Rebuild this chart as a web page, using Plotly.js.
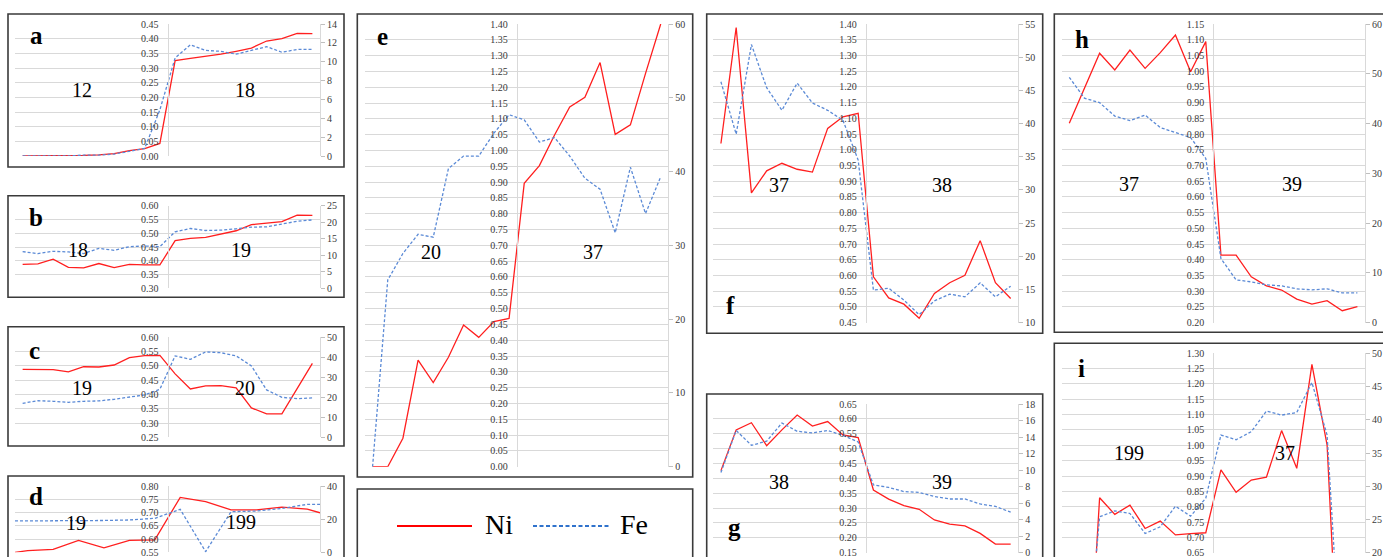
<!DOCTYPE html>
<html>
<head>
<meta charset="utf-8">
<script src="https://cdn.plot.ly/plotly-3.0.1.min.js"></script>
<style>html,body{margin:0;padding:0;background:#fff;overflow:hidden}#chart{width:1383px;height:557px}</style>
</head>
<body>
<div id="chart"></div>
<script>
// ---------------- data ----------------
const cat20 = [1,2,3,4,5,6,7,8,9,10,11,12,13,14,15,16,17,18,19,20];
const catD  = [0.5,1,2,3,4,5,6,7,8,9,10,11,12,12.5];

const aNi = [0.000,0.000,0.000,0.001,0.002,0.004,0.008,0.018,0.025,0.043,0.325,0.333,0.339,0.347,0.357,0.368,0.392,0.400,0.418,0.417];
const aFe = [0.0,0.0,0.0,0.0,0.1,0.1,0.2,0.5,0.8,4.9,10.4,11.8,11.2,11.1,10.8,11.2,11.6,11.0,11.3,11.3];

const bNi = [0.387,0.389,0.406,0.376,0.374,0.390,0.375,0.387,0.385,0.385,0.473,0.481,0.485,0.497,0.509,0.531,0.537,0.542,0.566,0.565];
const bFe = [11.1,10.5,11.2,11.0,10.5,12.1,11.5,12.6,12.8,12.6,17.1,18.1,17.5,17.6,18.0,18.5,18.6,19.5,20.3,20.7];

const cNi = [0.488,0.487,0.487,0.479,0.497,0.496,0.503,0.529,0.536,0.537,0.472,0.419,0.430,0.431,0.423,0.353,0.332,0.332,0.421,0.509];
const cFe = [17.0,18.3,18.0,17.5,18.0,18.2,19.0,20.0,21.2,24.0,40.7,39.0,42.7,42.3,40.7,35.7,23.7,20.0,19.3,19.7];

const dNi = [0.550,0.556,0.561,0.595,0.567,0.595,0.597,0.757,0.741,0.710,0.710,0.720,0.713,0.699];
const dFe = [18.9,18.9,18.9,19.0,19.2,19.5,20.5,25.9,0.4,24.5,24.9,26.5,28.9,28.9];

const eNi = [0.000,0.000,0.090,0.337,0.266,0.346,0.448,0.409,0.459,0.469,0.896,0.952,1.049,1.138,1.168,1.278,1.051,1.081,1.244,1.400];
const eFe = [0.0,25.3,28.9,31.5,31.1,40.4,42.1,42.1,45.2,47.7,47.0,44.0,44.6,42.1,39.1,37.6,31.7,40.6,34.3,39.3];

const fNi = [1.020,1.389,0.863,0.933,0.957,0.938,0.929,1.068,1.105,1.116,0.596,0.529,0.509,0.464,0.543,0.577,0.601,0.711,0.577,0.527];
const fFe = [46.3,38.4,51.9,45.4,42.0,46.1,43.1,42.0,40.5,34.5,14.9,15.2,13.4,11.2,13.3,14.3,13.9,16.0,13.9,15.5];

const gNi = [0.426,0.563,0.587,0.510,0.563,0.613,0.576,0.591,0.546,0.537,0.361,0.330,0.308,0.296,0.260,0.246,0.240,0.215,0.179,0.179];
const gFe = [9.7,14.8,13.0,13.5,15.7,14.7,14.5,14.8,14.2,13.4,8.2,7.9,7.4,7.3,6.8,6.5,6.5,5.9,5.6,4.9];

const hNi = [0.834,0.945,1.057,1.004,1.067,1.009,1.059,1.115,0.998,1.094,0.415,0.415,0.346,0.317,0.304,0.275,0.259,0.270,0.238,0.251];
const hFe = [49.3,45.1,44.2,41.5,40.6,41.7,39.2,38.2,37.2,33.0,12.9,8.6,8.2,7.6,7.4,6.8,6.6,6.8,6.0,6.0];

const iNi = [0,0,0.829,0.775,0.805,0.729,0.753,0.708,0.712,0.715,0.920,0.847,0.887,0.896,1.048,0.925,1.264,1.001,0,0];
const iFe = [0,0,25.4,26.3,25.9,22.9,23.9,27.0,25.5,28.2,37.7,37.0,38.2,41.3,40.7,41.1,45.6,37.7,0,0];

const panelLetters = ['a','b','c','d','e','f','g','h','i'];
const groupLabels  = [['12','18'],['18','19'],['19','20'],['19','199'],['20','37'],['37','38'],['38','39'],['37','39'],['199','37']];
const niRanges = [[0,0.45],[0.30,0.60],[0.25,0.60],[0.55,0.80],[0,1.40],[0.45,1.40],[0.15,0.65],[0.20,1.15],[0.65,1.30]];
const feRanges = [[0,14],[0,25],[0,50],[0,40],[0,60],[10,55],[0,18],[0,60],[20,50]];
const feSteps  = [2,5,10,20,10,5,2,10,5];
const seriesNames = ['Ni','Fe'];

// ---------------- layout geometry (pixels) ----------------
const W = 1383, H = 557;
const px = v => v / W;
const py = v => 1 - v / H;

const geom = [
  {series:[cat20,aNi,aFe], xr:[0.5,20.5], plot:[15,320,24,156],     box:[8,344,14,167],      letter:[36,35],     lab:[[82,90],[245,90]]},
  {series:[cat20,bNi,bFe], xr:[0.5,20.5], plot:[15,320,205.7,288.3], box:[8,344,195.7,297.3], letter:[36,217.6], lab:[[78.3,250],[241,250]]},
  {series:[cat20,cNi,cFe], xr:[0.5,20.5], plot:[15,320,337.3,437.3], box:[8,344,326.7,446],   letter:[34.7,350.6],lab:[[82,388.3],[244.7,388]]},
  {series:[catD ,dNi,dFe], xr:[0.5,12.5], plot:[15,320,486,552.3],   box:[8,344,476,620],     letter:[36,496.6],  lab:[[75.5,523],[241,521.8]]},
  {series:[cat20,eNi,eFe], xr:[0.5,20.5], plot:[365,668.3,24,466.7], box:[357.3,692.7,14,477],letter:[382.8,36.6],lab:[[430.8,252],[593.3,252]]},
  {series:[cat20,fNi,fFe], xr:[0.5,20.5], plot:[713.3,1018.3,24,322.7], box:[706.7,1042.7,14,333.3], letter:[730.8,305], lab:[[779.3,185.3],[942,185.3]]},
  {series:[cat20,gNi,gFe], xr:[0.5,20.5], plot:[713.3,1018.3,404,552.7], box:[706.7,1042.7,394,620], letter:[734,527.6], lab:[[779.3,482.3],[942,482.3]]},
  {series:[cat20,hNi,hFe], xr:[0.5,20.5], plot:[1061.7,1365,24,322.7], box:[1054.3,1420,14,332.3], letter:[1082,39.3], lab:[[1128.7,184.2],[1291.7,184.2]]},
  {series:[cat20,iNi,iFe], xr:[0.5,20.5], plot:[1061.7,1365,353.3,552.7], box:[1054.3,1420,343.3,620], letter:[1081.5,368.3], lab:[[1129.3,452.7],[1284.7,452.7]]}
];

const NI_COLOR = '#ff1f1f', FE_COLOR = '#5b8ad6';
const GRID = '#d9d9d9';
const SERIF = 'Liberation Serif';
const tickFont = () => ({family: SERIF, size: 10, color: '#3a3a3a'});

const data = [];
const layout = {
  width: W, height: H,
  margin: {l:0, r:0, t:0, b:0},
  paper_bgcolor: '#ffffff', plot_bgcolor: 'rgba(0,0,0,0)',
  showlegend: false,
  font: {family: SERIF, size: 10, color: '#3a3a3a'},
  shapes: [], annotations: []
};

geom.forEach((g, n) => {
  const xName = n === 0 ? 'xaxis' : 'xaxis' + (n + 1);
  const xRef  = n === 0 ? 'x' : 'x' + (n + 1);
  const lIdx = 2 * n + 1, rIdx = 2 * n + 2;
  const yLName = lIdx === 1 ? 'yaxis' : 'yaxis' + lIdx;
  const yLRef  = lIdx === 1 ? 'y' : 'y' + lIdx;
  const yRName = 'yaxis' + rIdx, yRRef = 'y' + rIdx;
  const [x0, x1, y0, y1] = g.plot;
  const nr = niRanges[n], fr = feRanges[n];
  const ne = (nr[1] - nr[0]) * 1e-6, fe = (fr[1] - fr[0]) * 1e-6;

  layout[xName] = {
    domain: [px(x0), px(x1)], range: g.xr, anchor: yLRef,
    showgrid: false, zeroline: false, showline: false, showticklabels: false, ticks: '', fixedrange: true
  };
  layout[yLName] = {
    domain: [py(y1), py(y0)], range: [nr[0] - ne, nr[1] + ne],
    tick0: nr[0], dtick: 0.05, tickformat: '.2f',
    anchor: 'free', position: px((x0 + x1) / 2), side: 'left',
    showline: true, linecolor: GRID, linewidth: 1,
    showgrid: true, gridcolor: GRID, gridwidth: 1, zeroline: false,
    ticks: 'outside', ticklen: 7, tickcolor: 'rgba(0,0,0,0)',
    ticklabeloverflow: 'allow',
    tickfont: tickFont(), fixedrange: true
  };
  layout[yRName] = {
    domain: [py(y1), py(y0)], range: [fr[0] - fe, fr[1] + fe],
    tick0: fr[0], dtick: feSteps[n],
    overlaying: yLRef, side: 'right', anchor: xRef,
    showgrid: false, zeroline: false, showline: true, linecolor: GRID, linewidth: 1,
    ticks: 'outside', ticklen: 4, tickcolor: '#bfbfbf',
    ticklabeloverflow: 'allow',
    tickfont: tickFont(), fixedrange: true
  };

  const [xs, ni, fe2] = g.series;
  data.push({x: xs, y: ni, xaxis: xRef, yaxis: yLRef, mode: 'lines', name: seriesNames[0],
             line: {color: NI_COLOR, width: 1.3}, hoverinfo: 'skip'});
  data.push({x: xs, y: fe2, xaxis: xRef, yaxis: yRRef, mode: 'lines', name: seriesNames[1],
             line: {color: FE_COLOR, width: 1.3, dash: '3px,2px'}, hoverinfo: 'skip'});

  // frame
  const [bx0, bx1, by0, by1] = g.box;
  layout.shapes.push({type: 'rect', xref: 'paper', yref: 'paper',
    x0: px(bx0), x1: px(bx1), y0: py(by1), y1: py(by0),
    line: {color: '#3a3a3a', width: 1.6}, fillcolor: 'rgba(0,0,0,0)', layer: 'above'});

  // panel letter
  layout.annotations.push({xref: 'paper', yref: 'paper', x: px(g.letter[0]), y: py(g.letter[1]),
    xanchor: 'center', yanchor: 'middle', showarrow: false, text: '<b>' + panelLetters[n] + '</b>',
    font: {family: SERIF, size: 25, color: '#000'}});
  // group labels
  groupLabels[n].forEach((t, k) => {
    layout.annotations.push({xref: 'paper', yref: 'paper', x: px(g.lab[k][0]), y: py(g.lab[k][1]),
      xanchor: 'center', yanchor: 'middle', showarrow: false, text: t,
      font: {family: SERIF, size: 20, color: '#000'}});
  });
});

// legend box
layout.shapes.push({type: 'rect', xref: 'paper', yref: 'paper',
  x0: px(357.3), x1: px(692.7), y0: py(620), y1: py(489),
  line: {color: '#3a3a3a', width: 1.6}, fillcolor: 'rgba(0,0,0,0)'});
layout.shapes.push({type: 'line', xref: 'paper', yref: 'paper',
  x0: px(397), x1: px(472), y0: py(526), y1: py(526), line: {color: '#ff0000', width: 2.2}});
layout.shapes.push({type: 'line', xref: 'paper', yref: 'paper',
  x0: px(533), x1: px(610), y0: py(526), y1: py(526), line: {color: '#2f72cc', width: 2.2, dash: '4px,2.5px'}});
layout.annotations.push({xref: 'paper', yref: 'paper', x: px(483), y: py(524.6), xanchor: 'left', yanchor: 'middle',
  showarrow: false, text: seriesNames[0], font: {family: SERIF, size: 28, color: '#000'}});
layout.annotations.push({xref: 'paper', yref: 'paper', x: px(618), y: py(524.6), xanchor: 'left', yanchor: 'middle',
  showarrow: false, text: seriesNames[1], font: {family: SERIF, size: 28, color: '#000'}});

Plotly.newPlot('chart', data, layout, {staticPlot: true, displayModeBar: false});
</script>
</body>
</html>
